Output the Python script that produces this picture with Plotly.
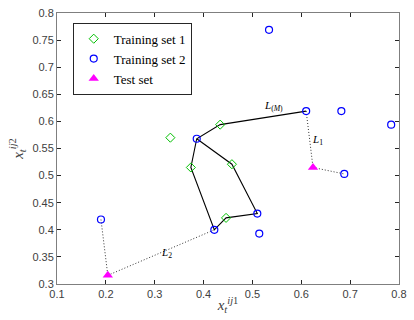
import plotly.graph_objects as go

# Data
train1_x = [0.332, 0.434, 0.458, 0.374, 0.446]
train1_y = [0.570, 0.594, 0.521, 0.515, 0.422]
train2_x = [0.190, 0.386, 0.422, 0.510, 0.514, 0.534, 0.610, 0.682, 0.784, 0.688]
train2_y = [0.419, 0.568, 0.400, 0.430, 0.393, 0.769, 0.619, 0.619, 0.594, 0.503]
test_x = [0.204, 0.624]
test_y = [0.316, 0.515]

# connections: ('1', idx) = training set 1, ('2', idx) = training set 2, ('t', idx) = test
solid_path = [('2', 6), ('1', 1), ('2', 1), ('1', 3), ('2', 2), ('1', 4), ('2', 3), ('1', 2), ('2', 1)]
dotted_segments = [[('2', 0), ('t', 0)], [('t', 0), ('2', 2)], [('2', 6), ('t', 1)], [('t', 1), ('2', 9)]]

labels_text = ["<i>L</i><sub>(<i>M</i>)</sub>", "<i>L</i><sub>1</sub>", "<i>L</i><sub>2</sub>"]
labels_x = [0.544, 0.634, 0.324]
labels_y = [0.628, 0.566, 0.357]


def pt(ref):
    s, i = ref
    if s == '1':
        return train1_x[i], train1_y[i]
    if s == '2':
        return train2_x[i], train2_y[i]
    return test_x[i], test_y[i]


fig = go.Figure()

sx, sy = zip(*[pt(r) for r in solid_path])
fig.add_trace(go.Scatter(x=list(sx), y=list(sy), mode='lines',
                         line=dict(color='black', width=1.1), showlegend=False, hoverinfo='skip'))
dx, dy = [], []
for seg in dotted_segments:
    for r in seg:
        x, y = pt(r)
        dx.append(x); dy.append(y)
    dx.append(None); dy.append(None)
fig.add_trace(go.Scatter(x=dx, y=dy, mode='lines',
                         line=dict(color='#333333', width=1, dash='1px,2px'), showlegend=False, hoverinfo='skip'))

fig.add_trace(go.Scatter(x=train1_x, y=train1_y, mode='markers', name='Training set 1',
                         marker=dict(symbol='diamond-open', size=7, color='#00c000', line=dict(width=1))))
fig.add_trace(go.Scatter(x=train2_x, y=train2_y, mode='markers', name='Training set 2',
                         marker=dict(symbol='circle-open', size=7, color='#0000ff', line=dict(width=1.2))))
fig.add_trace(go.Scatter(x=test_x, y=test_y, mode='markers', name='Test set',
                         marker=dict(symbol='triangle-up', size=9, color='#ff00ff')))

for t, x, y in zip(labels_text, labels_x, labels_y):
    fig.add_annotation(x=x, y=y, text=t, showarrow=False,
                       font=dict(family='Liberation Serif', size=11, color='black'))

axis_common = dict(showline=True, linecolor='#7f7f7f', linewidth=1, mirror='ticks', ticks='inside',
                   ticklen=4, tickcolor='#262626', showgrid=False, zeroline=False,
                   tickfont=dict(family='Liberation Sans', size=11, color='#404040'))

fig.update_xaxes(range=[0.1, 0.8], dtick=0.1, tickformat='.1~f',
                 title=dict(text='<i>x</i><sub><i>t</i></sub><sup><i>ij</i>1</sup>',
                            font=dict(family='Liberation Serif', size=15, color='#404040'), standoff=0),
                 **axis_common)
fig.update_yaxes(range=[0.3, 0.8], dtick=0.05, tickformat='.2~f',
                 title=dict(text='<i>x</i><sub><i>t</i></sub><sup><i>ij</i>2</sup>',
                            font=dict(family='Liberation Serif', size=15, color='#404040'), standoff=5),
                 **axis_common)

fig.update_layout(width=414, height=320, margin=dict(l=57, r=7, t=10, b=36),
                  plot_bgcolor='white', paper_bgcolor='white',
                  legend=dict(x=0.046, y=0.964, xanchor='left', yanchor='top',
                              bordercolor='#262626', borderwidth=1, bgcolor='white',
                              font=dict(family='Liberation Serif', size=13, color='black'),
                              tracegroupgap=0, itemsizing='trace'))

fig.write_html('out.html')
